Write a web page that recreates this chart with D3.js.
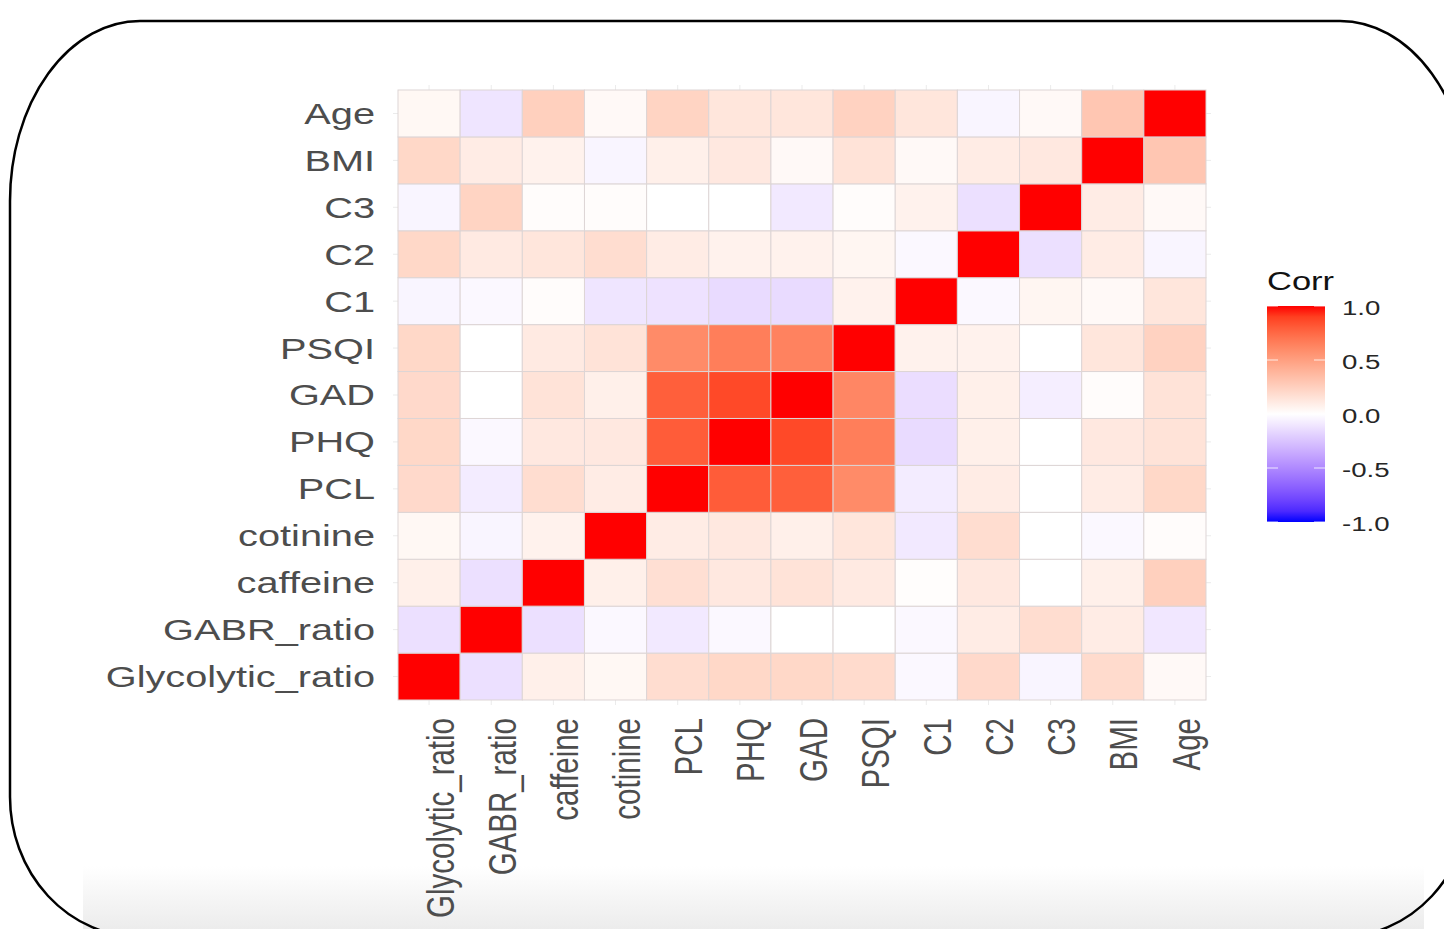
<!DOCTYPE html>
<html>
<head>
<meta charset="utf-8">
<script src="https://cdn.jsdelivr.net/npm/d3@7"></script>
<style>
  body { margin: 0; background: #fff; }
  svg { display: block; font-family: "Liberation Sans", Arial, sans-serif; }
</style>
</head>
<body>
<div id="chart"></div>
<script>
// variable order (x axis left->right, y axis bottom->top)
const variables = ["Glycolytic_ratio", "GABR_ratio", "caffeine", "cotinine", "PCL", "PHQ",
  "GAD", "PSQI", "C1", "C2", "C3", "BMI", "Age"];

// correlation of each variable with the columns above
const corrGlycolytic = [1, -0.13, 0.08, 0.04, 0.18, 0.21, 0.21, 0.19, -0.03, 0.2, -0.04, 0.19, 0.03];
const corrGABR = [-0.13, 1, -0.13, -0.03, -0.09, -0.03, 0, 0, -0.03, 0.1, 0.18, 0.1, -0.1];
const corrCaffeine = [0.08, -0.13, 1, 0.08, 0.17, 0.12, 0.15, 0.11, 0.01, 0.12, 0, 0.08, 0.25];
const corrCotinine = [0.04, -0.04, 0.07, 1, 0.1, 0.12, 0.08, 0.135, -0.09, 0.18, 0, -0.03, 0.015];
const corrPCL = [0.2, -0.08, 0.18, 0.1, 1, 0.8, 0.79, 0.6, -0.08, 0.1, 0, 0.1, 0.21];
const corrPHQ = [0.21, -0.03, 0.12, 0.12, 0.8, 1, 0.87, 0.66, -0.15, 0.08, 0, 0.12, 0.15];
const corrGAD = [0.2, 0, 0.15, 0.08, 0.79, 0.87, 1, 0.62, -0.14, 0.08, -0.07, 0.015, 0.15];
const corrPSQI = [0.21, 0, 0.11, 0.15, 0.6, 0.66, 0.64, 1, 0.07, 0.07, 0, 0.135, 0.24];
const corrC1 = [-0.04, -0.03, 0.015, -0.11, -0.12, -0.15, -0.15, 0.07, 1, -0.03, 0.05, 0.03, 0.135];
const corrC2 = [0.21, 0.11, 0.135, 0.18, 0.1, 0.07, 0.07, 0.05, -0.03, 1, -0.13, 0.1, -0.04];
const corrC3 = [-0.04, 0.23, 0.015, 0.015, 0, 0, -0.09, 0.015, 0.07, -0.13, 1, 0.1, 0.03];
const corrBMI = [0.21, 0.1, 0.07, -0.04, 0.08, 0.12, 0.03, 0.15, 0.03, 0.1, 0.12, 1, 0.3];
const corrAge = [0.04, -0.11, 0.25, 0.03, 0.23, 0.135, 0.135, 0.24, 0.135, -0.04, 0.03, 0.3, 1];

const legendTicks = [1.0, 0.5, 0.0, -0.5, -1.0];

const rows = [corrGlycolytic, corrGABR, corrCaffeine, corrCotinine, corrPCL, corrPHQ,
  corrGAD, corrPSQI, corrC1, corrC2, corrC3, corrBMI, corrAge];

const cells = [];
rows.forEach((row, i) => {
  row.forEach((v, j) => {
    cells.push({ rowVar: variables[i], colVar: variables[j], value: v });
  });
});

const width = 1444;
const height = 929;
const stretch = 1.37; // the picture is wider than tall, text is stretched too

const svg = d3.select("#chart")
  .append("svg")
  .attr("width", width)
  .attr("height", height);

const defs = svg.append("defs");

// faded grey band at the bottom
const band = defs.append("linearGradient")
  .attr("id", "band")
  .attr("x1", 0).attr("y1", 0).attr("x2", 0).attr("y2", 1);
band.append("stop").attr("offset", "0%").attr("stop-color", "#ffffff");
band.append("stop").attr("offset", "100%").attr("stop-color", "#ececec");

svg.append("rect")
  .attr("x", 83)
  .attr("y", 866)
  .attr("width", 1424 - 83)
  .attr("height", height - 866)
  .attr("fill", "url(#band)");

const xScale = d3.scaleBand().domain(variables).range([398, 1206]);
const yScale = d3.scaleBand().domain(variables.slice().reverse()).range([90, 700]);

// ggplot gradient2 style colours (Lab interpolation)
const colorScale = d3.scaleLinear()
  .domain([-1, 0, 1])
  .range(["#0000ff", "#ffffff", "#ff0000"])
  .interpolate(d3.interpolateLab);

// panel grid lines (only their stubs show around the tiles)
svg.append("g")
  .selectAll("line")
  .data(variables)
  .enter()
  .append("line")
  .attr("x1", (d) => xScale(d) + xScale.bandwidth() / 2)
  .attr("x2", (d) => xScale(d) + xScale.bandwidth() / 2)
  .attr("y1", 85)
  .attr("y2", 705)
  .attr("stroke", "#ebebeb")
  .attr("stroke-width", 1);

svg.append("g")
  .selectAll("line")
  .data(variables)
  .enter()
  .append("line")
  .attr("y1", (d) => yScale(d) + yScale.bandwidth() / 2)
  .attr("y2", (d) => yScale(d) + yScale.bandwidth() / 2)
  .attr("x1", 393)
  .attr("x2", 1211)
  .attr("stroke", "#ebebeb")
  .attr("stroke-width", 1);

svg.append("g")
  .selectAll("rect")
  .data(cells)
  .enter()
  .append("rect")
  .attr("x", (d) => xScale(d.colVar))
  .attr("y", (d) => yScale(d.rowVar))
  .attr("width", xScale.bandwidth())
  .attr("height", yScale.bandwidth())
  .attr("fill", (d) => colorScale(d.value))
  .attr("stroke", "#ddd5d5")
  .attr("stroke-width", 1);

// y axis labels
svg.append("g")
  .selectAll("text")
  .data(variables)
  .enter()
  .append("text")
  .attr("transform", (d) => `translate(375,${yScale(d) + yScale.bandwidth() / 2}) scale(${stretch},1)`)
  .attr("text-anchor", "end")
  .attr("dy", "0.36em")
  .attr("font-size", 29)
  .attr("fill", "#4d4d4d")
  .text((d) => d);

// x axis labels, rotated
svg.append("g")
  .selectAll("text")
  .data(variables)
  .enter()
  .append("text")
  .attr("transform", (d) => `translate(${xScale(d) + xScale.bandwidth() / 2 - 3},718) scale(1.3,1) rotate(-90)`)
  .attr("text-anchor", "end")
  .attr("dy", "0.72em")
  .attr("font-size", 29.5)
  .attr("fill", "#4d4d4d")
  .text((d) => d);

// legend
const legendScale = d3.scaleLinear().domain([-1, 1]).range([522, 306]);

const grad = defs.append("linearGradient")
  .attr("id", "corrGrad")
  .attr("x1", 0).attr("y1", 1).attr("x2", 0).attr("y2", 0);
grad.selectAll("stop")
  .data(d3.range(-1, 1.0001, 0.1))
  .enter()
  .append("stop")
  .attr("offset", (d) => `${((d + 1) / 2) * 100}%`)
  .attr("stop-color", (d) => colorScale(d));

svg.append("rect")
  .attr("x", 1267)
  .attr("y", legendScale(1))
  .attr("width", 58)
  .attr("height", legendScale(-1) - legendScale(1))
  .attr("fill", "url(#corrGrad)");

const legend = svg.append("g").attr("id", "legend");

legend.selectAll("line.left")
  .data(legendTicks)
  .enter()
  .append("line")
  .attr("x1", 1267).attr("x2", 1278)
  .attr("y1", (d) => legendScale(d))
  .attr("y2", (d) => legendScale(d))
  .attr("stroke", "#ffffff")
  .attr("stroke-opacity", 0.8)
  .attr("stroke-width", 1);

legend.selectAll("line.right")
  .data(legendTicks)
  .enter()
  .append("line")
  .attr("x1", 1314).attr("x2", 1325)
  .attr("y1", (d) => legendScale(d))
  .attr("y2", (d) => legendScale(d))
  .attr("stroke", "#ffffff")
  .attr("stroke-opacity", 0.8)
  .attr("stroke-width", 1);

legend.selectAll("text")
  .data(legendTicks)
  .enter()
  .append("text")
  .attr("transform", (d) => `translate(1342,${legendScale(d) + 2}) scale(1.38,1)`)
  .attr("dy", "0.36em")
  .attr("font-size", 20)
  .attr("fill", "#262626")
  .text((d) => d.toFixed(1));

svg.append("text")
  .attr("transform", `translate(1267,290) scale(1.38,1)`)
  .attr("font-size", 25)
  .attr("fill", "#111")
  .text("Corr");

// rounded frame round the screenshot
const L = 10, T = 21, R = 1470, B = 937;
const rxT = 130, ryT = 180, rxB = 130, ryB = 140;
svg.append("path")
  .attr("d",
    `M${L + rxT},${T} L${R - rxT},${T} ` +
    `A${rxT},${ryT} 0 0 1 ${R},${T + ryT} L${R},${B - ryB} ` +
    `A${rxB},${ryB} 0 0 1 ${R - rxB},${B} L${L + rxB},${B} ` +
    `A${rxB},${ryB} 0 0 1 ${L},${B - ryB} L${L},${T + ryT} ` +
    `A${rxT},${ryT} 0 0 1 ${L + rxT},${T} Z`)
  .attr("fill", "none")
  .attr("stroke", "#000")
  .attr("stroke-width", 2.5);
</script>
</body>
</html>
